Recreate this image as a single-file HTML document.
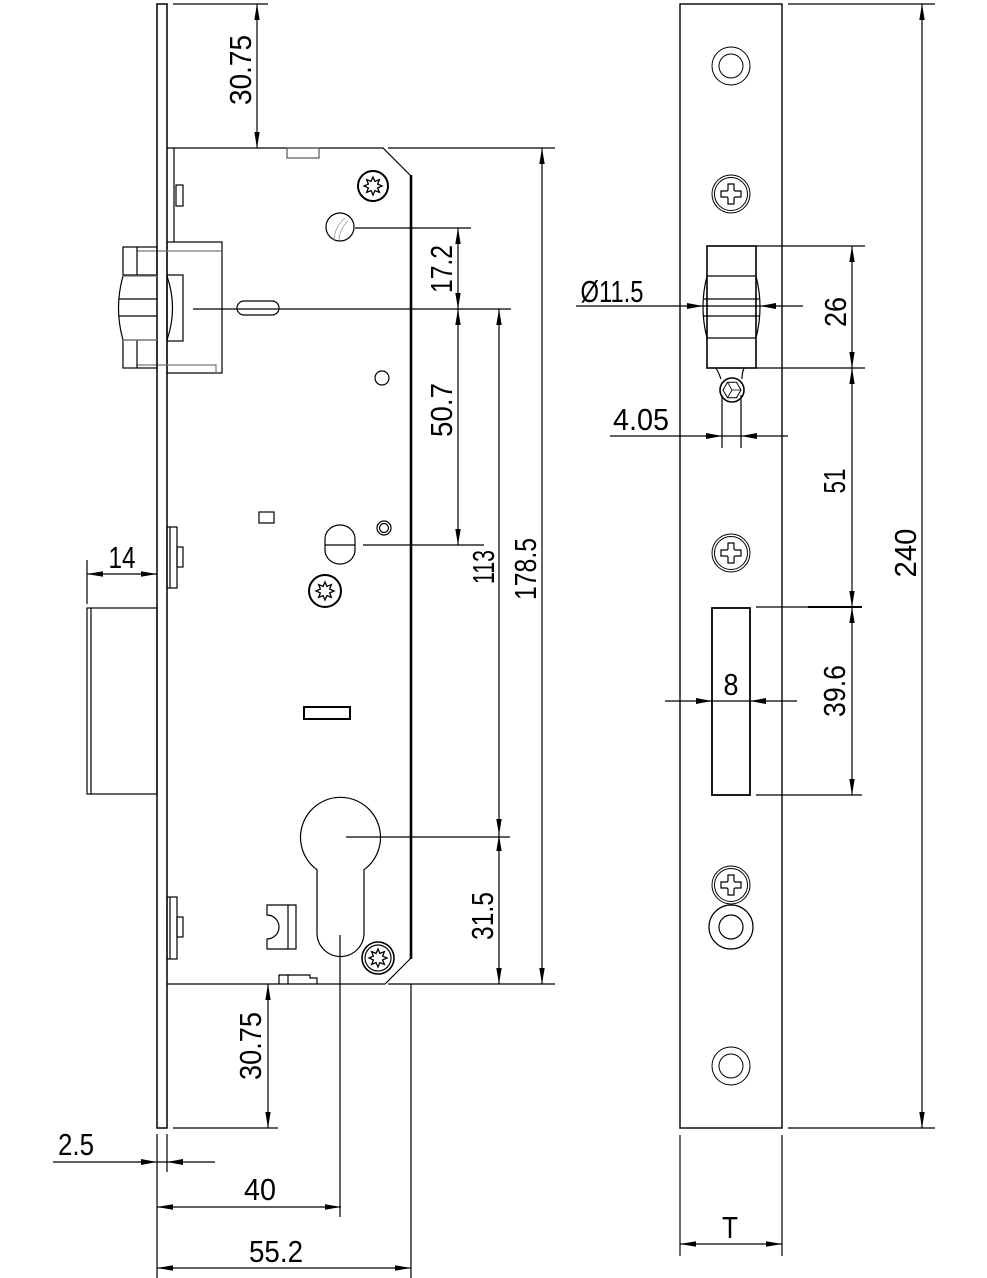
<!DOCTYPE html>
<html><head><meta charset="utf-8"><style>
html,body{margin:0;padding:0;background:#fff;}
svg{display:block;}
</style></head><body>
<svg width="987" height="1278" viewBox="0 0 987 1278" xmlns="http://www.w3.org/2000/svg">
<defs>
<marker id="ar" viewBox="0 0 16 6" refX="16" refY="3" markerWidth="16" markerHeight="6" markerUnits="userSpaceOnUse" orient="auto-start-reverse"><path d="M0,0.3 L16,3 L0,5.7z" fill="#000"/></marker>
<g id="star"><polygon fill="none" stroke="#000" stroke-width="1.3" points="9,0 4.62,1.91 6.36,6.36 1.91,4.62 0,9 -1.91,4.62 -6.36,6.36 -4.62,1.91 -9,0 -4.62,-1.91 -6.36,-6.36 -1.91,-4.62 0,-9 1.91,-4.62 6.36,-6.36 4.62,-1.91"/></g>
<g id="cross"><circle r="19" fill="none" stroke="#000" stroke-width="1"/><circle r="16.5" fill="none" stroke="#000" stroke-width="1"/><polygon fill="none" stroke="#000" stroke-width="1.2" points="-3,-10 3,-10 3,-4 4,-3 10,-3 10,3 4,3 3,4 3,10 -3,10 -3,4 -4,3 -10,3 -10,-3 -4,-3 -3,-4"/></g>
<g id="ring"><circle r="19" fill="none" stroke="#000" stroke-width="1"/><circle r="12" fill="none" stroke="#000" stroke-width="1"/></g>
</defs>
<rect width="987" height="1278" fill="#fff"/>

<g fill="none" stroke="#000" stroke-width="1.2">
<!-- LEFT VIEW -->
<rect x="157" y="4" width="10" height="1124" stroke-width="1.5"/>
<line x1="157" y1="1134" x2="157" y2="1278"/>
<line x1="167" y1="1134" x2="167" y2="1172"/>
<line x1="173" y1="4" x2="268" y2="4"/>
<path d="M167,148 H383 L411,176 M411,958 L385,984 H167"/>
<line x1="411" y1="175" x2="411" y2="959" stroke-width="2.6"/>
<line x1="174" y1="148" x2="174" y2="242"/>
<rect x="176" y="185" width="7" height="21"/>
<rect x="287" y="148" width="32" height="10" stroke="#555"/>
<!-- latch housing -->
<rect x="167" y="242" width="55" height="131"/>
<line x1="137" y1="251" x2="222" y2="251" stroke="#777"/>
<path d="M137,365 H216 V373" stroke="#777"/>
<rect x="123" y="247" width="34" height="28"/>
<line x1="137" y1="247" x2="137" y2="275"/>
<rect x="123" y="340" width="34" height="28"/>
<line x1="137" y1="340" x2="137" y2="368"/>
<path d="M123,276 Q114,308 123,340"/>
<path d="M167,276 Q178,308 167,340"/>
<line x1="123" y1="276" x2="157" y2="276" stroke="#777"/>
<line x1="123" y1="340" x2="157" y2="340" stroke="#777"/>
<line x1="119" y1="299" x2="157" y2="299"/>
<line x1="119" y1="316" x2="157" y2="316"/>
<rect x="167" y="275" width="16" height="66"/>
<rect x="237" y="301" width="42" height="14" rx="7"/>
<line x1="193" y1="309" x2="511" y2="309"/>
<!-- features -->
<circle cx="373" cy="186" r="15" stroke-width="2"/>
<use href="#star" x="373" y="186"/>
<circle cx="340" cy="227" r="14" fill="none" stroke="#000" stroke-width="1.2"/>
<path d="M334,240 Q335,226 345,218" fill="none" stroke="#999" stroke-width="0.8"/>
<path d="M339,240 Q340,228 348,221" fill="none" stroke="#999" stroke-width="0.8"/>
<line x1="355" y1="228" x2="471" y2="228"/>
<circle cx="382" cy="378" r="7"/>
<rect x="259" y="512" width="15" height="11"/>
<circle cx="384" cy="528" r="7"/>
<circle cx="384" cy="528" r="4.5"/>
<rect x="325" y="525" width="30" height="39" rx="15" ry="14"/>
<line x1="325" y1="545" x2="355" y2="545"/>
<line x1="363" y1="545" x2="484" y2="545"/>
<circle cx="325" cy="591" r="16" stroke-width="2"/>
<use href="#star" x="325" y="591"/>
<rect x="167" y="527" width="10" height="61"/>
<line x1="170" y1="527" x2="170" y2="588"/>
<rect x="177" y="547" width="6" height="20"/>
<rect x="304" y="707" width="46" height="12" stroke-width="2"/>
<!-- cylinder -->
<path d="M317,869.7 A40,40 0 1 1 364,869.7 V933 A23.5,23.5 0 0 1 317,933 Z"/>
<line x1="346" y1="837" x2="510" y2="837"/>
<line x1="340" y1="935" x2="340" y2="1217"/>
<path d="M267,905 H296 V949 H267 V939 A12,12 0 0 0 267,915 Z"/>
<line x1="288" y1="905" x2="288" y2="949"/>
<circle cx="378" cy="958" r="16" stroke-width="1.6"/>
<circle cx="378" cy="958" r="13"/>
<use href="#star" x="378" y="958"/>
<path d="M279,984 V975 H310 V978 H317 V984"/>
<line x1="288" y1="975" x2="288" y2="984"/>
<rect x="167" y="897" width="10" height="62"/>
<line x1="170" y1="897" x2="170" y2="959"/>
<rect x="177" y="917" width="6" height="20"/>
<!-- deadbolt -->
<rect x="87" y="608" width="70" height="186"/>
<line x1="91" y1="608" x2="91" y2="794"/>
<!-- extension lines -->
<line x1="388" y1="148" x2="555" y2="148"/>
<line x1="388" y1="984" x2="555" y2="984"/>
<line x1="173" y1="1128" x2="278" y2="1128"/>
<line x1="87" y1="560" x2="87" y2="604"/>
<line x1="411" y1="984" x2="411" y2="1278"/>

<!-- RIGHT VIEW -->
<rect x="680" y="4" width="102" height="1124" stroke-width="1.4"/>
<line x1="788" y1="4" x2="935" y2="4"/>
<line x1="788" y1="1128" x2="935" y2="1128"/>
<line x1="680" y1="1135" x2="680" y2="1256"/>
<line x1="782" y1="1135" x2="782" y2="1256"/>
<use href="#ring" x="731" y="66"/>
<use href="#cross" x="731" y="194"/>
<use href="#cross" x="731" y="553"/>
<use href="#cross" x="731" y="885"/>
<circle cx="731" cy="927" r="22"/>
<circle cx="731" cy="927" r="12"/>
<use href="#ring" x="731" y="1066"/>
<!-- latch right -->
<rect x="707" y="246" width="49" height="122" stroke-width="1.6"/>
<path d="M707,276 Q699,307 707,338" />
<path d="M756,276 Q764,307 756,338" />
<line x1="707" y1="276" x2="756" y2="276"/>
<line x1="704" y1="299" x2="759" y2="299"/>
<line x1="704" y1="316" x2="759" y2="316"/>
<line x1="707" y1="338" x2="756" y2="338"/>
<path d="M716,368 Q719,373 721,379 M744,368 Q742,373 742,379"/>
<circle cx="732" cy="390" r="12" stroke-width="1.6"/>
<polygon points="741,390 736.5,397.8 727.5,397.8 723,390 727.5,382.2 736.5,382.2" stroke-width="1"/>
<path d="M732,390 L741,390 M732,390 L727.5,397.8 M732,390 L727.5,382.2" stroke-width="0.8"/>
<line x1="756" y1="246" x2="865" y2="246"/>
<line x1="756" y1="368" x2="865" y2="368"/>
<line x1="756" y1="607" x2="862" y2="607"/>
<line x1="808" y1="607" x2="862" y2="607" stroke-width="2"/>
<line x1="756" y1="795" x2="862" y2="795"/>
<rect x="712" y="608" width="38" height="187" stroke-width="1.8"/>
<line x1="722" y1="395" x2="722" y2="448"/>
<line x1="741" y1="395" x2="741" y2="448"/>
<!-- plain dim lines -->
<line x1="576" y1="306" x2="803" y2="306"/>
<line x1="610" y1="436" x2="788" y2="436"/>
<line x1="665" y1="701" x2="797" y2="701"/>
<line x1="53" y1="1162" x2="215" y2="1162"/>
</g>

<!-- dimension lines with arrows -->
<g stroke="#000" stroke-width="1.2" fill="none" marker-start="url(#ar)" marker-end="url(#ar)">
<line x1="257" y1="4" x2="257" y2="148"/>
<line x1="458" y1="228" x2="458" y2="309"/>
<line x1="458" y1="309" x2="458" y2="545"/>
<line x1="499" y1="309" x2="499" y2="835"/>
<line x1="499" y1="835" x2="499" y2="984"/>
<line x1="542" y1="148" x2="542" y2="984"/>
<line x1="268" y1="984" x2="268" y2="1128"/>
<line x1="87" y1="574" x2="157" y2="574"/>
<line x1="157" y1="1207" x2="341" y2="1207"/>
<line x1="157" y1="1268" x2="411" y2="1268"/>
<line x1="922" y1="4" x2="922" y2="1128"/>
<line x1="852" y1="246" x2="852" y2="368"/>
<line x1="852" y1="368" x2="852" y2="607"/>
<line x1="852" y1="607" x2="852" y2="795"/>
<line x1="680" y1="1244" x2="782" y2="1244"/>
</g>
<!-- inward arrows -->
<g fill="#000">
<polygon points="157,1162 141,1159 141,1165"/>
<polygon points="167,1162 183,1159 183,1165"/>
<polygon points="703,306 687,303 687,309"/>
<polygon points="760,306 776,303 776,309"/>
<polygon points="722,436 706,433 706,439"/>
<polygon points="741,436 757,433 757,439"/>
<polygon points="712,701 696,698 696,704"/>
<polygon points="750,701 766,698 766,704"/>
</g>

<!-- TEXT -->
<g font-family="'Liberation Sans', sans-serif" font-size="31" fill="#000" text-anchor="middle">
<text transform="translate(240,70) rotate(-90)" x="0" y="11" textLength="70" lengthAdjust="spacingAndGlyphs">30.75</text>
<text transform="translate(441,269) rotate(-90)" x="0" y="11" textLength="48" lengthAdjust="spacingAndGlyphs">17.2</text>
<text transform="translate(441,410) rotate(-90)" x="0" y="11" textLength="54" lengthAdjust="spacingAndGlyphs">50.7</text>
<text transform="translate(483,567) rotate(-90)" x="0" y="11" textLength="34" lengthAdjust="spacingAndGlyphs">113</text>
<text transform="translate(525,569) rotate(-90)" x="0" y="11" textLength="62" lengthAdjust="spacingAndGlyphs">178.5</text>
<text transform="translate(482,916) rotate(-90)" x="0" y="11" textLength="48" lengthAdjust="spacingAndGlyphs">31.5</text>
<text transform="translate(250,1046) rotate(-90)" x="0" y="11" textLength="68" lengthAdjust="spacingAndGlyphs">30.75</text>
<text x="122" y="568" textLength="27" lengthAdjust="spacingAndGlyphs">14</text>
<text x="76" y="1155" textLength="36" lengthAdjust="spacingAndGlyphs">2.5</text>
<text x="260" y="1200" textLength="32" lengthAdjust="spacingAndGlyphs">40</text>
<text x="276" y="1262" textLength="54" lengthAdjust="spacingAndGlyphs">55.2</text>
<text x="612" y="302" textLength="63" lengthAdjust="spacingAndGlyphs">Ø11.5</text>
<text x="641" y="430" textLength="56" lengthAdjust="spacingAndGlyphs">4.05</text>
<text x="731" y="695" textLength="15" lengthAdjust="spacingAndGlyphs">8</text>
<text x="730" y="1238" textLength="16" lengthAdjust="spacingAndGlyphs">T</text>
<text transform="translate(835,312) rotate(-90)" x="0" y="11" textLength="30" lengthAdjust="spacingAndGlyphs">26</text>
<text transform="translate(834,481) rotate(-90)" x="0" y="11" textLength="25" lengthAdjust="spacingAndGlyphs">51</text>
<text transform="translate(834,691) rotate(-90)" x="0" y="11" textLength="52" lengthAdjust="spacingAndGlyphs">39.6</text>
<text transform="translate(905,553) rotate(-90)" x="0" y="11" textLength="49" lengthAdjust="spacingAndGlyphs">240</text>
</g>
</svg>
</body></html>
